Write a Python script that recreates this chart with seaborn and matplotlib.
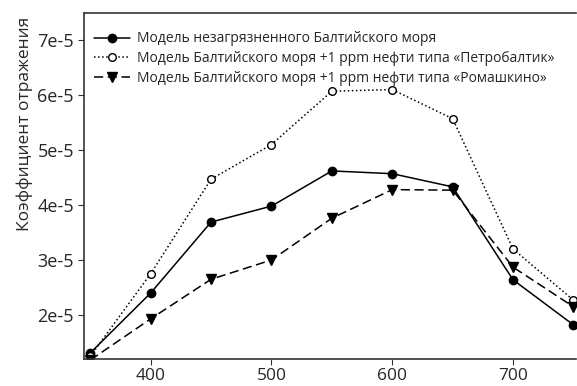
import pandas as pd
import seaborn as sns
import matplotlib.pyplot as plt

# Данные
wavelength = [350, 400, 450, 500, 550, 600, 650, 700, 750]
clean_sea = [1.31e-5, 2.40e-5, 3.69e-5, 3.98e-5, 4.62e-5, 4.57e-5, 4.33e-5, 2.64e-5, 1.82e-5]
petrobaltic = [1.25e-5, 2.75e-5, 4.47e-5, 5.10e-5, 6.07e-5, 6.10e-5, 5.57e-5, 3.20e-5, 2.27e-5]
romashkino = [1.18e-5, 1.93e-5, 2.65e-5, 3.00e-5, 3.76e-5, 4.28e-5, 4.27e-5, 2.87e-5, 2.15e-5]

labels = [
    "Модель незагрязненного Балтийского моря",
    "Модель Балтийского моря +1 ppm нефти типа «Петробалтик»",
    "Модель Балтийского моря +1 ppm нефти типа «Ромашкино»",
]
x_ticks = [400, 500, 600, 700]
y_ticks = [2e-5, 3e-5, 4e-5, 5e-5, 6e-5, 7e-5]
y_tick_labels = ["2e-5", "3e-5", "4e-5", "5e-5", "6e-5", "7e-5"]

df = pd.DataFrame({
    "wl": wavelength * 3,
    "val": clean_sea + petrobaltic + romashkino,
    "model": [labels[0]] * 9 + [labels[1]] * 9 + [labels[2]] * 9,
})

sns.set_style("ticks")
plt.rcParams["font.family"] = ["Open Sans", "DejaVu Sans"]

fig = plt.figure(figsize=(5.77, 3.86), dpi=100)
ax = fig.add_axes([0.146, 0.07, 0.852, 0.896])

styles = [
    dict(linestyle="-", marker="o", mfc="black", ms=6),
    dict(linestyle=":", marker="o", mfc="white", ms=5.5),
    dict(linestyle=(0, (6, 3)), marker="v", mfc="black", ms=7),
]
for lab, st in zip(labels, styles):
    sub = df[df["model"] == lab]
    sns.lineplot(data=sub, x="wl", y="val", ax=ax, color="black", lw=1.1,
                 linestyle=st["linestyle"], marker=st["marker"],
                 markerfacecolor=st["mfc"], markeredgecolor="black",
                 markersize=st["ms"], markeredgewidth=1.0, label=lab)

ax.set_xlim(345, 752)
ax.set_ylim(1.2e-5, 7.49e-5)
ax.set_xticks(x_ticks)
ax.set_yticks(y_ticks)
ax.set_yticklabels(y_tick_labels)
ax.tick_params(labelsize=13, length=4, color="#333333")
ax.tick_params(axis="x", labelsize=12.5, pad=2.5)
ax.set_xlabel("")
ax.set_ylabel("Коэффициент отражения", fontsize=12.5)
ax.yaxis.set_label_coords(-0.105, 0.68)
ax.spines["right"].set_visible(False)
for s in ["left", "bottom", "top"]:
    ax.spines[s].set_color("#333333")
    ax.spines[s].set_linewidth(1.2)

ax.legend(loc="upper left", bbox_to_anchor=(0.0, 0.975), frameon=False,
          fontsize=10, handlelength=2.6, borderaxespad=0.3,
          labelspacing=0.35, handletextpad=0.5)

plt.savefig("out.png", dpi=100)
